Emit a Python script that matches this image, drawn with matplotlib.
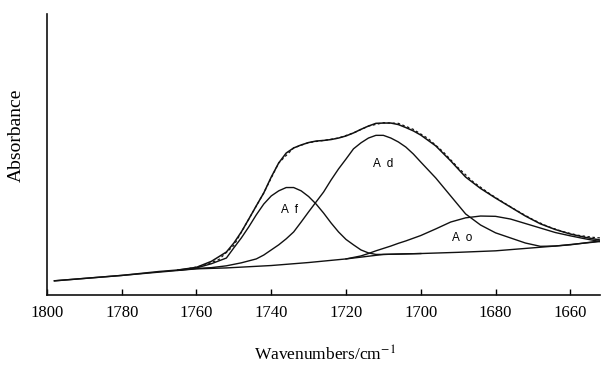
"""
FTIR band fit of the carbonyl region: total envelope plus the three
component bands (Af, Ad, Ao) sitting on a sloping baseline.
"""

import matplotlib
import matplotlib.pyplot as plt

matplotlib.use('Agg')
plt.rcParams['mathtext.fontset'] = 'stix'

# baseline (wavenumber, absorbance)
base_wn = [1798, 1780, 1760, 1752, 1740, 1730, 1720, 1712, 1710, 1700, 1690, 1680, 1670, 1660, 1652]
base_a = [0.047, 0.065, 0.087, 0.090, 0.098, 0.108, 0.120, 0.132, 0.135, 0.138, 0.142, 0.147, 0.157, 0.167, 0.180]

# Af component
af_wn = [1765, 1760, 1756, 1752, 1750, 1748, 1746, 1744, 1742, 1740, 1738, 1736, 1734, 1732,
         1730, 1728, 1726, 1724, 1722, 1720, 1718, 1716, 1714, 1712, 1710, 1700]
af_a = [0.083, 0.090, 0.104, 0.123, 0.157, 0.190, 0.227, 0.267, 0.303, 0.330, 0.347, 0.358, 0.358, 0.347,
        0.328, 0.303, 0.273, 0.240, 0.210, 0.185, 0.167, 0.150, 0.140, 0.135, 0.135, 0.138]

# Ad component
ad_wn = [1765, 1760, 1756, 1752, 1748, 1744, 1742, 1740, 1738, 1736, 1734, 1732, 1730,
         1728, 1726, 1724, 1722, 1720, 1718, 1716, 1714, 1712, 1710, 1708, 1706, 1704,
         1702, 1700, 1696, 1692, 1688, 1684, 1680, 1676, 1672, 1668, 1664, 1660, 1656, 1652]
ad_a = [0.082, 0.088, 0.091, 0.097, 0.107, 0.120, 0.133, 0.150, 0.167, 0.187, 0.210, 0.243, 0.277,
        0.310, 0.343, 0.383, 0.420, 0.453, 0.487, 0.507, 0.523, 0.532, 0.532, 0.523, 0.510, 0.493,
        0.470, 0.443, 0.390, 0.330, 0.270, 0.233, 0.207, 0.190, 0.173, 0.162, 0.163, 0.168, 0.173, 0.178]

# Ao component
ao_wn = [1720, 1716, 1714, 1712, 1710, 1708, 1706, 1704, 1700, 1696, 1692, 1688, 1684,
         1680, 1676, 1672, 1668, 1664, 1660, 1656, 1652]
ao_a = [0.120, 0.130, 0.138, 0.147, 0.155, 0.163, 0.172, 0.180, 0.198, 0.220, 0.243, 0.257, 0.263,
        0.262, 0.253, 0.238, 0.223, 0.208, 0.197, 0.187, 0.178]

# fitted envelope
tot_wn = [1798, 1780, 1770, 1765, 1760, 1756, 1752, 1750, 1748, 1746, 1744, 1742, 1740, 1738,
          1736, 1734, 1732, 1730, 1728, 1726, 1724, 1722, 1720, 1718, 1716, 1714, 1712, 1710,
          1708, 1706, 1704, 1702, 1700, 1696, 1692, 1688, 1684, 1680, 1676, 1672, 1668, 1664,
          1660, 1656, 1652]
tot_a = [0.047, 0.065, 0.078, 0.083, 0.092, 0.112, 0.143, 0.173, 0.210, 0.253, 0.297, 0.340, 0.393, 0.440,
         0.473, 0.490, 0.500, 0.508, 0.513, 0.515, 0.518, 0.523, 0.530, 0.540, 0.552, 0.563, 0.572, 0.573,
         0.573, 0.568, 0.558, 0.547, 0.533, 0.497, 0.447, 0.393, 0.355, 0.323, 0.293, 0.263, 0.237, 0.218,
         0.203, 0.192, 0.183]

# measured spectrum (dashed)
obs_wn = [1762, 1758, 1754, 1750, 1746, 1742, 1738, 1734, 1730, 1726, 1722, 1718, 1714, 1710,
          1706, 1702, 1698, 1694, 1690, 1686, 1682, 1678, 1674, 1670, 1666, 1662, 1658, 1654, 1652]
obs_a = [0.088, 0.098, 0.118, 0.165, 0.253, 0.340, 0.440, 0.490, 0.508, 0.515, 0.523, 0.540, 0.563, 0.574,
         0.572, 0.552, 0.521, 0.477, 0.424, 0.377, 0.341, 0.309, 0.279, 0.251, 0.228, 0.211, 0.199, 0.192, 0.190]

band_labels = ['A  f', 'A  d', 'A  o']
label_wn = [1735.1, 1710.2, 1689.0]
label_a = [0.283, 0.435, 0.190]

xticks = [1800, 1780, 1760, 1740, 1720, 1700, 1680, 1660]

fig = plt.figure(figsize=(6.02, 3.65), dpi=100)
ax = fig.add_axes([0.078, 0.192, 0.919, 0.770])

lc = '#111111'
ax.plot(base_wn, base_a, color=lc, linewidth=1.0)
ax.plot(af_wn, af_a, color=lc, linewidth=1.0)
ax.plot(ad_wn, ad_a, color=lc, linewidth=1.0)
ax.plot(ao_wn, ao_a, color=lc, linewidth=1.0)
ax.plot(tot_wn, tot_a, color=lc, linewidth=1.1)
ax.plot(obs_wn, obs_a, color=lc, linewidth=0.9, linestyle=(0, (2, 2)))

for txt, x, y in zip(band_labels, label_wn, label_a):
    ax.text(x, y, txt, ha='center', va='center', fontsize=8.5, family='Liberation Sans')

ax.set_xlim(1800, 1652)
ax.set_ylim(0, 0.937)
ax.set_xticks(xticks)
ax.set_yticks([])
ax.tick_params(axis='x', direction='in', length=4, width=1.0, pad=7, labelsize=12)
for lab in ax.get_xticklabels():
    lab.set_family('Liberation Serif')

for s in ['top', 'right']:
    ax.spines[s].set_visible(False)
for s in ['left', 'bottom']:
    ax.spines[s].set_linewidth(1.2)
    ax.spines[s].set_color(lc)

ax.set_ylabel('Absorbance', family='Liberation Serif', fontsize=14)
ax.yaxis.set_label_coords(-0.040, 0.569)
ax.set_xlabel('Wavenumbers/cm$^{-1}$', family='Liberation Serif', fontsize=12.5)
ax.xaxis.set_label_coords(0.503, -0.180)
ax.xaxis.label.set_verticalalignment('top')

plt.savefig('out.png', dpi=100)
plt.close()
